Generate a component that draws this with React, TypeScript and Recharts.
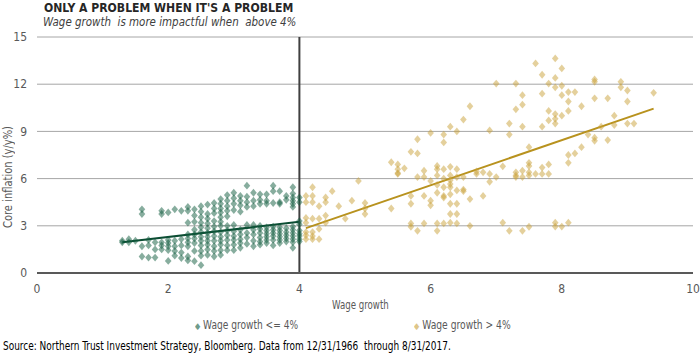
import React from "react";
import {
  ScatterChart,
  Scatter,
  XAxis,
  YAxis,
  CartesianGrid,
  ReferenceLine,
} from "recharts";

// wage growth <= 4%: columns of [wage growth, core inflation values]
const lowWageColumns: [number, number[]][] = [
  [1.3, [1.95, 2.05]],
  [1.4, [2.15, 1.95]],
  [1.5, [2.05]],
  [1.6, [4.05, 3.75, 1.7, 1.05]],
  [1.7, [2.1, 1.75, 0.98]],
  [1.8, [1.95, 1.5, 0.98]],
  [1.9, [3.95, 3.75, 1.95, 1.75, 1.5]],
  [2.0, [3.85, 2.1, 1.9, 1.7, 1.45, 0.77]],
  [2.1, [4.05, 2.05, 1.7, 1.4, 1.1]],
  [2.2, [3.95, 2.15, 1.75, 1.3, 0.95]],
  [2.3, [4.2, 3.95, 3.2, 2.45, 2.2, 1.95, 1.7, 1.05, 0.8]],
  [2.4, [4.05, 3.65, 3.25, 2.75, 2.45, 2.2, 1.9, 1.4, 0.75]],
  [2.5, [4.25, 3.9, 3.55, 3.2, 2.9, 2.6, 2.3, 2.05, 1.75, 1.4, 1.1, 0.5]],
  [2.6, [4.35, 3.75, 3.45, 3.15, 2.85, 2.55, 2.3, 2.05, 1.8, 1.5, 1.15]],
  [2.7, [4.45, 4.1, 3.8, 3.3, 2.95, 2.65, 2.35, 2.05, 1.7, 1.4, 1.05]],
  [2.8, [4.7, 4.4, 4.1, 3.85, 3.55, 3.25, 3.0, 2.6, 2.3, 2.05, 1.8, 1.45, 1.15]],
  [2.9, [4.95, 4.6, 4.25, 3.95, 3.6, 3.0, 2.7, 2.4, 2.1, 1.75, 1.45]],
  [3.0, [5.1, 4.75, 4.4, 4.0, 3.05, 2.65, 2.35, 2.1, 1.8, 1.45]],
  [3.1, [4.9, 4.6, 4.3, 3.9, 2.75, 2.45, 2.15, 1.9, 1.6]],
  [3.2, [5.55, 4.85, 4.5, 4.2, 3.05, 2.55, 2.25, 1.85]],
  [3.3, [5.1, 4.6, 4.25, 3.05, 2.75, 2.45, 2.05, 1.7]],
  [3.4, [5.0, 4.65, 4.4, 3.0, 2.8, 2.55, 2.25, 2.0, 1.8]],
  [3.5, [5.0, 4.6, 4.4, 2.9, 2.7, 2.5, 2.3, 2.1, 1.9]],
  [3.6, [5.55, 5.2, 4.45, 2.95, 2.75, 2.55, 2.35, 2.1, 1.75]],
  [3.7, [5.2, 4.5, 4.4, 2.9, 2.7, 2.5, 2.3, 2.1, 1.9]],
  [3.8, [4.9, 4.65, 2.85, 2.6, 2.4, 2.2, 2.0]],
  [3.9, [5.45, 5.05, 4.8, 4.6, 4.4, 4.2, 2.95, 2.75, 2.55, 2.35, 2.15, 1.95, 1.6]],
  [4.0, [4.8, 4.5, 3.3, 3.1, 2.7, 2.5, 2.35, 2.15, 2.0]],
];

// wage growth > 4%: [wage growth, core inflation]
const highWagePoints: [number, number][] = [
  [4.1, 4.9], [4.1, 4.5], [4.1, 3.5], [4.1, 3.2], [4.1, 2.6], [4.1, 2.15], [4.1, 2.4],
  [4.2, 5.45], [4.2, 4.9], [4.2, 4.5], [4.2, 3.45], [4.2, 2.6], [4.2, 2.15], [4.2, 2.35],
  [4.3, 4.25], [4.3, 3.45], [4.3, 2.8], [4.3, 2.15],
  [4.4, 4.8], [4.4, 4.5], [4.4, 3.65], [4.4, 3.2],
  [4.5, 5.2], [4.6, 4.25], [4.7, 3.45], [4.8, 4.6], [4.9, 5.85],
  [5.0, 4.45], [5.0, 4.1], [5.0, 3.75],
  [5.4, 4.1], [5.5, 6.35],
  [5.4, 7.04], [5.5, 6.9], [5.5, 6.6], [5.5, 6.3], [5.6, 6.65],
  [5.7, 7.7], [5.8, 8.5], [5.8, 7.6], [6.0, 8.9],
  [5.7, 4.9], [5.7, 4.4], [5.7, 3.15], [5.7, 2.94],
  [5.8, 6.1], [5.8, 2.68],
  [5.9, 6.5], [5.9, 6.1], [5.9, 4.9], [5.9, 3.15],
  [6.0, 5.85], [6.0, 4.6], [6.0, 4.3],
  [6.1, 6.8], [6.1, 6.6], [6.1, 6.2], [6.1, 5.6], [6.1, 5.1], [6.1, 3.15], [6.1, 2.68],
  [6.2, 8.8], [6.2, 8.3], [6.2, 6.6], [6.2, 6.0], [6.2, 5.45], [6.2, 4.9], [6.2, 4.8], [6.2, 3.15],
  [6.3, 9.3], [6.3, 6.75], [6.3, 6.2], [6.3, 5.9], [6.3, 5.65], [6.3, 5.45], [6.3, 5.0], [6.3, 4.4], [6.3, 3.75], [6.3, 3.2],
  [6.4, 9.0], [6.4, 6.6], [6.4, 6.1], [6.4, 5.25], [6.4, 4.4], [6.4, 3.75], [6.4, 3.15],
  [6.5, 9.75], [6.5, 6.1], [6.5, 5.3], [6.5, 5.2],
  [6.6, 10.6], [6.6, 4.7], [6.6, 3.0],
  [6.7, 6.3], [6.7, 6.45], [6.8, 6.4], [6.8, 4.9],
  [6.9, 9.06], [6.9, 6.3], [6.9, 5.8],
  [7.0, 12.04], [7.0, 6.1],
  [7.1, 6.78], [7.1, 3.2],
  [7.2, 9.5], [7.2, 8.8], [7.2, 2.68],
  [7.3, 12.04], [7.3, 10.4], [7.3, 6.4], [7.3, 6.2], [7.3, 6.1],
  [7.4, 11.3], [7.4, 10.7], [7.4, 9.3], [7.4, 6.5], [7.4, 6.1], [7.4, 2.68],
  [7.5, 8.0], [7.5, 7.0], [7.5, 6.8], [7.5, 6.4], [7.5, 6.2], [7.5, 2.94],
  [7.6, 13.32], [7.6, 6.3],
  [7.7, 12.6], [7.7, 11.4], [7.7, 9.3], [7.7, 6.7], [7.7, 6.3],
  [7.8, 12.04], [7.8, 10.3], [7.8, 9.7], [7.8, 6.9], [7.8, 6.3],
  [7.9, 13.64], [7.9, 12.4], [7.9, 11.8], [7.9, 10.1], [7.9, 9.8], [7.9, 9.5], [7.9, 3.2], [7.9, 2.95],
  [8.0, 13.0], [8.0, 11.9], [8.0, 11.3], [8.0, 10.0], [8.0, 2.95],
  [8.1, 11.5], [8.1, 10.9], [8.1, 10.3], [8.1, 7.5], [8.1, 7.0], [8.1, 3.2],
  [8.2, 11.5], [8.2, 7.6],
  [8.3, 10.6], [8.3, 8.0],
  [8.4, 8.8],
  [8.5, 12.3], [8.5, 12.15], [8.5, 11.1], [8.5, 8.6], [8.5, 8.4],
  [8.6, 9.3],
  [8.7, 11.1], [8.7, 8.45],
  [8.8, 10.0], [8.8, 9.4],
  [8.9, 12.15], [8.9, 11.8],
  [9.0, 11.6], [9.0, 10.9], [9.0, 9.5],
  [9.1, 9.5],
  [9.4, 11.45],
];

// fitted trend lines, end points
const lowTrend: [number, number][] = [[1.3, 1.95], [4.0, 3.25]];
const highTrend: [number, number][] = [[4.1, 2.85], [9.4, 10.45]];

const xTicks = [0, 2, 4, 6, 8, 10];
const yTicks = [0, 3, 6, 9, 12, 15];

const GREEN = "#0f5c3e";
const GOLD = "#c9a13a";
const NARROW = "'DejaVu Sans Condensed', 'Liberation Sans Narrow', sans-serif";

const lowData = lowWageColumns.flatMap(([x, ys]) => ys.map((y) => ({ x, y })));
const highData = highWagePoints.map(([x, y]) => ({ x, y }));

function makeDiamond(color: string) {
  return (props: any) => {
    const { cx, cy } = props;
    if (cx == null || cy == null) return <g />;
    return (
      <path
        d={`M${cx},${cy - 3.9}L${cx + 3.3},${cy}L${cx},${cy + 3.9}L${cx - 3.3},${cy}Z`}
        fill={color}
        fillOpacity={0.5}
      />
    );
  };
}

// squeezes a text horizontally, like the narrow face of the original
function Squeeze({
  k,
  origin = "left",
  children,
}: {
  k: number;
  origin?: string;
  children: React.ReactNode;
}) {
  return (
    <span
      style={{
        display: "inline-block",
        transform: `scaleX(${k})`,
        transformOrigin: origin,
        whiteSpace: "pre",
      }}
    >
      {children}
    </span>
  );
}

const tickStyle = { fontSize: 12, fill: "#595959", fontFamily: NARROW };

export default function App() {
  return (
    <div
      style={{
        position: "absolute",
        left: 0,
        top: 0,
        width: 700,
        height: 361,
        background: "#fff",
        fontFamily: NARROW,
      }}
    >
      <div
        style={{
          position: "absolute",
          left: 44,
          top: 1,
          fontSize: 13,
          lineHeight: "14px",
          fontWeight: "bold",
          color: "#262626",
        }}
      >
        <Squeeze k={0.93}>ONLY A PROBLEM WHEN IT'S A PROBLEM</Squeeze>
      </div>
      <div
        style={{
          position: "absolute",
          left: 43,
          top: 15,
          fontSize: 13,
          lineHeight: "14px",
          fontStyle: "italic",
          color: "#404040",
        }}
      >
        <Squeeze k={0.88}>{"Wage growth  is more impactful when  above 4%"}</Squeeze>
      </div>

      <ScatterChart
        width={700}
        height={361}
        margin={{ top: 37, right: 7, bottom: 58, left: 7 }}
      >
        <CartesianGrid vertical={false} stroke="#a6a6a6" />
        <XAxis
          type="number"
          dataKey="x"
          domain={[0, 10]}
          ticks={xTicks}
          tickLine={false}
          axisLine={{ stroke: "#595959", strokeWidth: 2 }}
          tick={tickStyle}
          tickMargin={5}
          height={30}
        />
        <YAxis
          type="number"
          dataKey="y"
          domain={[0, 15]}
          ticks={yTicks}
          tickLine={false}
          axisLine={false}
          tick={tickStyle}
          tickMargin={4}
          width={30}
        />
        <Scatter
          data={lowData}
          fill={GREEN}
          shape={makeDiamond(GREEN)}
          isAnimationActive={false}
        />
        <Scatter
          data={highData}
          fill={GOLD}
          shape={makeDiamond(GOLD)}
          isAnimationActive={false}
        />
        <ReferenceLine
          segment={lowTrend.map(([x, y]) => ({ x, y }))}
          stroke="#0c4d33"
          strokeWidth={2}
        />
        <ReferenceLine
          segment={highTrend.map(([x, y]) => ({ x, y }))}
          stroke="#b8921e"
          strokeWidth={2}
        />
        <ReferenceLine x={4} stroke="#404040" strokeWidth={2} />
      </ScatterChart>

      <div
        style={{
          position: "absolute",
          left: 8,
          top: 177,
          fontSize: 12,
          lineHeight: "14px",
          color: "#595959",
          whiteSpace: "nowrap",
          transform: "translate(-50%, -50%) rotate(-90deg)",
        }}
      >
        <Squeeze k={0.92} origin="center">Core inflation (y/y%)</Squeeze>
      </div>

      <div
        style={{
          position: "absolute",
          left: 332,
          top: 298,
          fontSize: 12,
          color: "#595959",
        }}
      >
        <Squeeze k={0.8}>Wage growth</Squeeze>
      </div>

      <div
        style={{
          position: "absolute",
          left: 195,
          top: 318,
          fontSize: 12,
          color: "#595959",
        }}
      >
        <Squeeze k={0.84}>
          <span style={{ color: GREEN, opacity: 0.6, fontSize: 9 }}>◆</span>
          {" Wage growth <= 4%"}
        </Squeeze>
      </div>
      <div
        style={{
          position: "absolute",
          left: 414,
          top: 318,
          fontSize: 12,
          color: "#595959",
        }}
      >
        <Squeeze k={0.85}>
          <span style={{ color: GOLD, opacity: 0.6, fontSize: 9 }}>◆</span>
          {" Wage growth > 4%"}
        </Squeeze>
      </div>

      <div
        style={{
          position: "absolute",
          left: 3,
          top: 339,
          fontSize: 12,
          color: "#000",
        }}
      >
        <Squeeze k={0.83}>
          {"Source: Northern Trust Investment Strategy, Bloomberg. Data from 12/31/1966  through 8/31/2017."}
        </Squeeze>
      </div>
    </div>
  );
}
